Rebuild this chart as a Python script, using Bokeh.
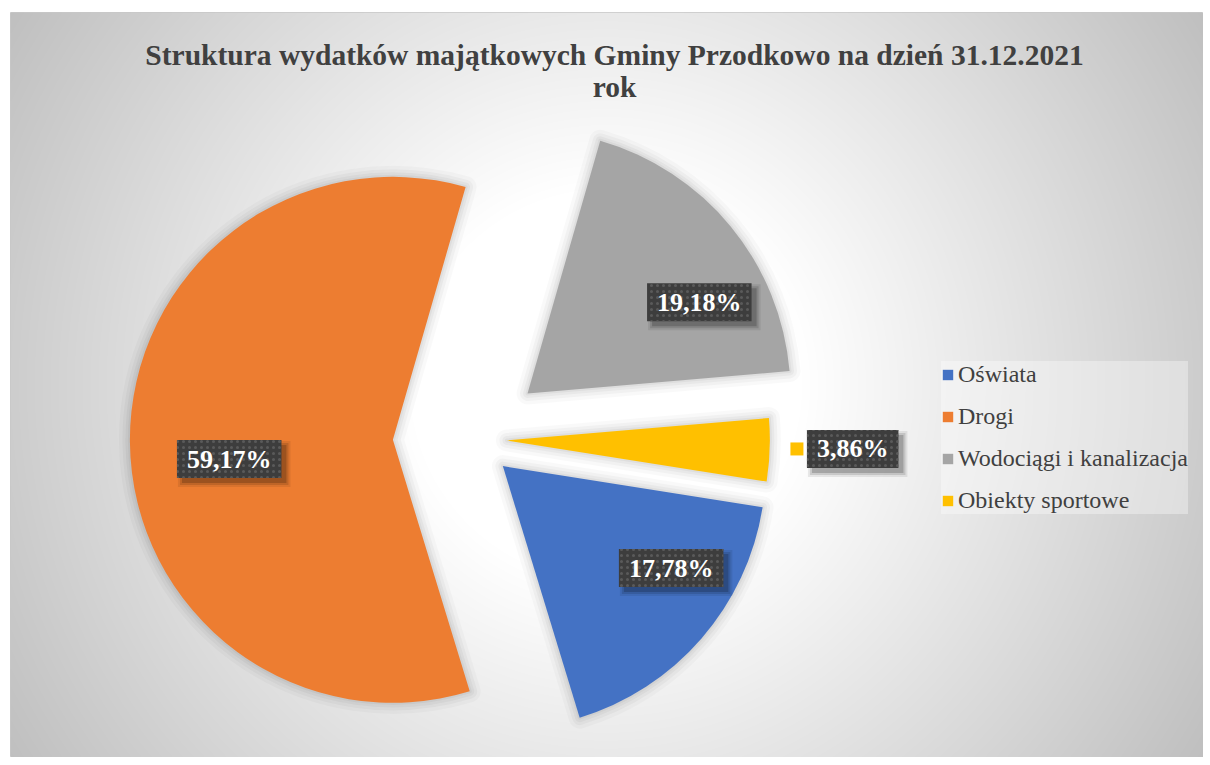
import numpy as np
from bokeh.plotting import figure
from bokeh.models import Range1d, Label, Legend, LegendItem, ColumnDataSource
from bokeh.core.properties import value
from bokeh.embed import file_html
from bokeh.resources import INLINE

# ---------------- data ----------------
title_line1 = "Struktura wydatków majątkowych Gminy Przodkowo na dzień 31.12.2021"
title_line2 = "rok"
categories = ["Oświata", "Drogi", "Wodociągi i kanalizacja", "Obiekty sportowe"]
shares = [17.78, 59.17, 19.18, 3.86]

# ---------------- style ----------------
colors = ["#4472C4", "#ED7D31", "#A5A5A5", "#FFC000"]
W, H = 1193, 745                 # frame size in px (1 data unit = 1 px)
CX, CY = 461.4, 318.3            # pie centre
R = 263                          # pie radius
start_deg = -9.0                 # first slice starts here, slices go clockwise
explode = [41, 79, 72, 35]       # per-slice explosion distance
label_off = [(168.3, -102.0), (-163.7, -19.2), (171.8, 91.3), (345.8, -8.5)]
show_key = [False, False, False, True]
label_font_px = 26

fr = np.array(shares) / sum(shares)
cum = np.concatenate([[0.0], np.cumsum(fr)[:-1]])
a_start = np.deg2rad(start_deg) - cum * 2 * np.pi
a_end = a_start - fr * 2 * np.pi
mid = (a_start + a_end) / 2
ex = np.array(explode, dtype=float)
vx = CX + ex * np.cos(mid)
vy = CY + ex * np.sin(mid)

src = ColumnDataSource(dict(x=vx, y=vy, s=a_end, e=a_start, color=colors, cat=categories))

p = figure(width=10 + W, height=12 + H, output_backend="svg", toolbar_location=None,
           x_range=Range1d(0, W), y_range=Range1d(0, H),
           x_axis_type=None, y_axis_type=None,
           min_border_left=10, min_border_top=12, min_border_right=0, min_border_bottom=0)
p.grid.visible = False
p.outline_line_color = "#c8c8c8"
p.outline_line_width = 1
p.border_fill_color = "white"
p.background_fill_color = "white"

# radial gradient background
gx, gy = 595.0, 372.0
yy, xx = np.mgrid[0:H, 0:W]
r = np.sqrt((xx - gx) ** 2 + (yy - gy) ** 2)
t = r / np.sqrt(gx ** 2 + (H - gy) ** 2)
v = np.clip(255 - 88 * np.clip(t - 0.28, 0, None), 0, 255).astype(np.uint8)
img = np.empty((H, W), dtype=np.uint32)
view = img.view(dtype=np.uint8).reshape((H, W, 4))
view[:, :, 0] = v
view[:, :, 1] = v
view[:, :, 2] = v
view[:, :, 3] = 255
p.image_rgba(image=[img], x=0, y=0, dw=W, dh=H)

# soft shadows around slices
for lw, la in [(22, 0.025), (15, 0.03), (9, 0.035), (4, 0.04)]:
    p.wedge(x="x", y="y", radius=R, start_angle="s", end_angle="e", direction="anticlock",
            source=src, fill_alpha=0, line_color="black", line_alpha=la, line_width=lw,
            line_join="round")

pie = p.wedge(x="x", y="y", radius=R, start_angle="s", end_angle="e", direction="anticlock",
              source=src, fill_color="color", line_color=None)

# data labels
lab_txt = [f"{s:.2f}".replace(".", ",") + "%" for s in shares]
lx = np.array([vx[i] + label_off[i][0] for i in range(len(shares))])
ly = np.array([vy[i] + label_off[i][1] for i in range(len(shares))])
bw = [label_font_px * (0.5 * sum(c.isdigit() for c in tx) + 0.25 + 1.0) + 20 for tx in lab_txt]
bh = 38

for dx, dy, grow, a in [(5, -5, 8, 0.08), (5, -5, 4, 0.12), (5, -5, 0, 0.18)]:
    p.rect(x=lx + dx, y=ly + dy, width=[w + grow for w in bw], height=bh + grow,
           width_units="screen", height_units="screen",
           fill_color="black", fill_alpha=a, line_color=None)
p.rect(x=lx, y=ly, width=bw, height=bh, width_units="screen", height_units="screen",
       fill_color="#3d3d3d", line_color=None,
       hatch_pattern="dot", hatch_color="#5a5a5a", hatch_scale=6, hatch_weight=1.5)
p.text(x=lx, y=ly, text=lab_txt, text_align="center", text_baseline="middle",
       text_font=value("Liberation Serif"), text_font_style="bold",
       text_font_size=f"{label_font_px}px", text_color="white")
kx = [lx[i] - bw[i] / 2 - 10 for i in range(len(shares)) if show_key[i]]
ky = [ly[i] for i in range(len(shares)) if show_key[i]]
kc = [colors[i] for i in range(len(shares)) if show_key[i]]
p.rect(x=kx, y=ky, width=13, height=13, width_units="screen", height_units="screen",
       fill_color=kc, line_color=None)

# title
for txt, ty in [(title_line1, 703), (title_line2, 671)]:
    p.add_layout(Label(x=604, y=ty, text=txt, text_align="center", text_baseline="alphabetic",
                       text_font="Liberation Serif", text_font_style="bold",
                       text_font_size="29.5px", text_color="#404040"))

# legend
items = [LegendItem(label=c, renderers=[pie], index=i) for i, c in enumerate(categories)]
legend = Legend(items=items, location=(931, 243), orientation="vertical",
                label_text_font="Liberation Serif", label_text_font_size="24px",
                label_text_color="#404040", glyph_width=13, glyph_height=13,
                label_standoff=4, spacing=15, padding=10, margin=0,
                background_fill_color="white", background_fill_alpha=0.35,
                border_line_color=None)
p.add_layout(legend)

open("out.html", "w").write(file_html(p, INLINE))
